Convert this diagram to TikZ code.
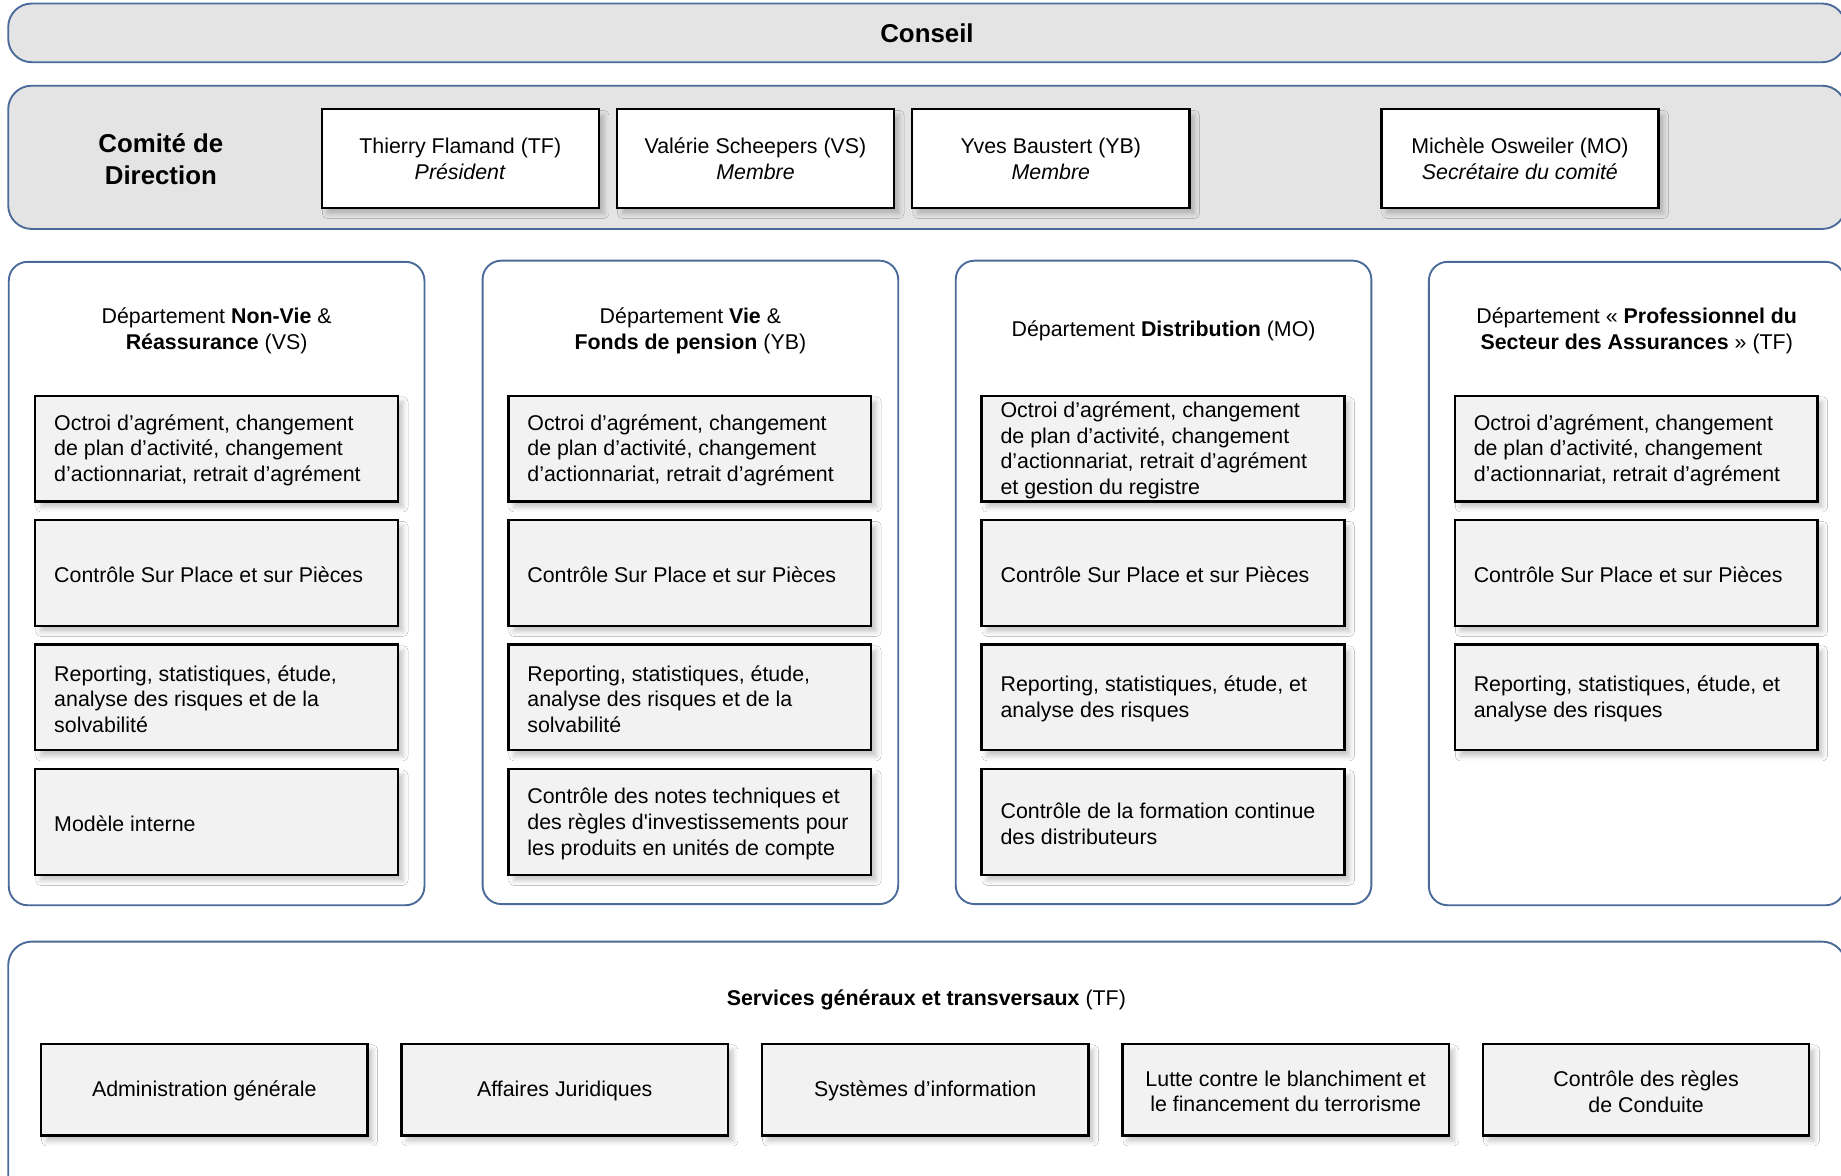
\documentclass[tikz,border=0pt]{standalone}
\usepackage{fontspec}
\setmainfont{Liberation Sans}
\newfontfamily\plainap{Liberation Sans}
\usetikzlibrary{shadows.blur,calc}
\definecolor{bblue}{HTML}{4A6A9A}
\definecolor{ogray}{HTML}{E4E4E4}
\definecolor{igray}{HTML}{F2F2F2}
\newcommand\fnorm{\fontsize{18.2}{22}\selectfont}
\newcommand\fbig{\fontsize{22}{27}\selectfont\bfseries}
\tikzset{
  outerbox/.style={draw=bblue, line width=1.6pt, fill=ogray, rounded corners=20pt, inner sep=0pt},
  deptbox/.style={draw=bblue, line width=1.6pt, fill=white, rounded corners=16pt, inner sep=0pt,
    minimum width=354pt, minimum height=548pt},
  softshadow/.style={blur shadow={shadow xshift=4.5pt, shadow yshift=-5pt, shadow blur radius=4pt, shadow opacity=22}},
  member/.style={draw=black, line width=2pt, fill=white, minimum width=236pt, minimum height=84pt,
    inner sep=0pt, softshadow},
  ibox/.style={draw=black, line width=2pt, fill=igray, minimum width=309pt, minimum height=90pt,
    inner sep=0pt, softshadow},
  itext/.style={anchor=west, align=left, inner sep=0pt, font=\fnorm},
  ctext/.style={align=center, inner sep=0pt, font=\fnorm},
  sbox/.style={draw=black, line width=2pt, fill=igray, minimum width=278pt, minimum height=78pt,
    inner sep=0pt, softshadow},
  head/.style={align=center, font=\fnorm, inner sep=0pt},
}
\begin{document}
\begin{tikzpicture}[x=1pt,y=-1pt]
\useasboundingbox (0,0) rectangle (1568,1001);

% Conseil
\node[outerbox, minimum width=1565pt, minimum height=50pt, font=\fbig] (conseil) at (789.5,28) {Conseil};

% Comite de direction
\node[outerbox, minimum width=1565pt, minimum height=122pt] (comite) at (789.5,134) {};
\node[font=\fbig, align=center, inner sep=0pt] (comitet) at (137,135.5) {Comité de\\Direction};
\node[member] (tf) at (392,135) {};
\node[ctext] (tft) at (tf) {Thierry Flamand (TF)\\\textit{Président}};
\node[member] (vs) at (643.5,135) {};
\node[ctext] (vst) at (vs) {Valérie Scheepers (VS)\\\textit{Membre}};
\node[member] (yb) at (895,135) {};
\node[ctext] (ybt) at (yb) {Yves Baustert (YB)\\\textit{Membre}};
\node[member] (mo) at (1294.5,135) {};
\node[ctext] (mot) at (mo) {Michèle Osweiler (MO)\\\textit{Secrétaire du comité}};

% Departments
\node[deptbox] (d1) at (184.5,497) {};
\node[deptbox] (d2) at (588,496) {};
\node[deptbox] (d3) at (991,496) {};
\node[deptbox] (d4) at (1394,497) {};

\node[head] (d1h) at (184.5,281.5) {Département \textbf{Non-Vie} \&\\\textbf{Réassurance} (VS)};
\node[head] (d2h) at (588,281.5) {Département \textbf{Vie} \&\\\textbf{Fonds de pension} (YB)};
\node[head] (d3h) at (991,281.5) {Département \textbf{Distribution} (MO)};
\node[head] (d4h) at (1394,281.5) {Département « \textbf{Professionnel du}\\\textbf{Secteur des Assurances} » (TF)};

% Dept 1
\node[ibox] (d1a) at (184.5,382) {};
\node[itext] (d1at) at ($(d1a.west)+(17,1.5)$) {Octroi d’agrément, changement\\de plan d’activité, changement\\d’actionnariat, retrait d’agrément};
\node[ibox] (d1b) at (184.5,488) {};
\node[itext] (d1bt) at ($(d1b.west)+(17,1.5)$) {Contrôle Sur Place et sur Pièces};
\node[ibox] (d1c) at (184.5,594) {};
\node[itext] (d1ct) at ($(d1c.west)+(17,1.5)$) {Reporting, statistiques, étude,\\analyse des risques et de la\\solvabilité};
\node[ibox] (d1d) at (184.5,700) {};
\node[itext] (d1dt) at ($(d1d.west)+(17,1.5)$) {Modèle interne};

% Dept 2
\node[ibox] (d2a) at (587.5,382) {};
\node[itext] (d2at) at ($(d2a.west)+(17,1.5)$) {Octroi d’agrément, changement\\de plan d’activité, changement\\d’actionnariat, retrait d’agrément};
\node[ibox] (d2b) at (587.5,488) {};
\node[itext] (d2bt) at ($(d2b.west)+(17,1.5)$) {Contrôle Sur Place et sur Pièces};
\node[ibox] (d2c) at (587.5,594) {};
\node[itext] (d2ct) at ($(d2c.west)+(17,1.5)$) {Reporting, statistiques, étude,\\analyse des risques et de la\\solvabilité};
\node[ibox] (d2d) at (587.5,700) {};
\node[itext] (d2dt) at ($(d2d.west)+(17,1.5)$) {Contrôle des notes techniques et\\des règles d{\plainap '}investissements pour\\les produits en unités de compte};

% Dept 3
\node[ibox] (d3a) at (990.5,382) {};
\node[itext] (d3at) at ($(d3a.west)+(17,1.5)$) {Octroi d’agrément, changement\\de plan d’activité, changement\\d’actionnariat, retrait d’agrément\\et gestion du registre};
\node[ibox] (d3b) at (990.5,488) {};
\node[itext] (d3bt) at ($(d3b.west)+(17,1.5)$) {Contrôle Sur Place et sur Pièces};
\node[ibox] (d3c) at (990.5,594) {};
\node[itext] (d3ct) at ($(d3c.west)+(17,1.5)$) {Reporting, statistiques, étude, et\\analyse des risques};
\node[ibox] (d3d) at (990.5,700) {};
\node[itext] (d3dt) at ($(d3d.west)+(17,1.5)$) {Contrôle de la formation continue\\des distributeurs};

% Dept 4
\node[ibox] (d4a) at (1393.5,382) {};
\node[itext] (d4at) at ($(d4a.west)+(17,1.5)$) {Octroi d’agrément, changement\\de plan d’activité, changement\\d’actionnariat, retrait d’agrément};
\node[ibox] (d4b) at (1393.5,488) {};
\node[itext] (d4bt) at ($(d4b.west)+(17,1.5)$) {Contrôle Sur Place et sur Pièces};
\node[ibox] (d4c) at (1393.5,594) {};
\node[itext] (d4ct) at ($(d4c.west)+(17,1.5)$) {Reporting, statistiques, étude, et\\analyse des risques};

% Services
\node[deptbox, rounded corners=20pt, minimum width=1565pt, minimum height=228pt] (serv) at (789.5,916) {};
\node[head] (servt) at (789,851.5) {\textbf{Services généraux et transversaux} (TF)};
\node[sbox] (s1) at (174,928) {};
\node[ctext] (s1t) at ($(s1)+(0,1.5)$) {Administration générale};
\node[sbox] (s2) at (481,928) {};
\node[ctext] (s2t) at ($(s2)+(0,1.5)$) {Affaires Juridiques};
\node[sbox] (s3) at (788,928) {};
\node[ctext] (s3t) at ($(s3)+(0,1.5)$) {Systèmes d’information};
\node[sbox] (s4) at (1095,928) {};
\node[ctext] (s4t) at ($(s4)+(0,1.5)$) {Lutte contre le blanchiment et\\le financement du terrorisme};
\node[sbox] (s5) at (1402,928) {};
\node[ctext] (s5t) at ($(s5)+(0,1.5)$) {Contrôle des règles\\de Conduite};
\end{tikzpicture}
\end{document}
